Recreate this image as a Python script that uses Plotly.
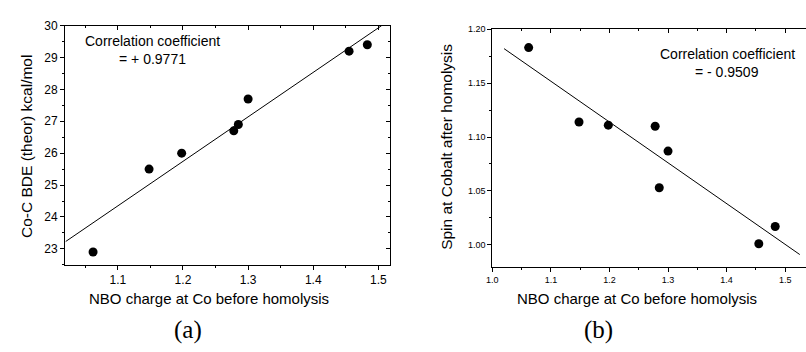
import plotly.graph_objects as go

# Data
nbo_charge = [1.062, 1.148, 1.198, 1.278, 1.285, 1.300, 1.455, 1.483]
bde_theor = [22.9, 25.5, 26.0, 26.7, 26.9, 27.7, 29.2, 29.4]
spin_cobalt = [1.183, 1.114, 1.111, 1.110, 1.053, 1.087, 1.001, 1.017]

fit_a_x = [1.02, 1.505]
fit_a_y = [23.23, 30.0]
fit_b_x = [1.02, 1.525]
fit_b_y = [1.182, 0.991]

xticks_a = [1.1, 1.2, 1.3, 1.4, 1.5]
yticks_a = [23, 24, 25, 26, 27, 28, 29, 30]
xticks_b = [1.0, 1.1, 1.2, 1.3, 1.4, 1.5]
yticks_b = [1.00, 1.05, 1.10, 1.15, 1.20]

W, H = 806, 352
ax_a = dict(x0=59.5, x1=387, y0=19, y1=263)
ax_b = dict(x0=490, x1=806, y0=22.7, y1=265)
xr_a = [1.019, 1.518]
yr_a = [22.5, 30.0]
xr_b = [1.0, 1.5356]
yr_b = [0.9797, 1.2]

font = "Liberation Sans, Arial, sans-serif"

def dom_x(a):
    return [a["x0"] / W, a["x1"] / W]

def dom_y(a):
    return [1 - a["y1"] / H, 1 - a["y0"] / H]

fig = go.Figure()
mk = dict(color="black", size=9)
fig.add_trace(go.Scatter(x=nbo_charge, y=bde_theor, mode="markers", marker=mk,
                         xaxis="x", yaxis="y", showlegend=False))
fig.add_trace(go.Scatter(x=fit_a_x, y=fit_a_y, mode="lines", line=dict(color="black", width=1),
                         xaxis="x", yaxis="y", showlegend=False))
fig.add_trace(go.Scatter(x=nbo_charge, y=spin_cobalt, mode="markers", marker=mk,
                         xaxis="x2", yaxis="y2", showlegend=False))
fig.add_trace(go.Scatter(x=fit_b_x, y=fit_b_y, mode="lines", line=dict(color="black", width=1),
                         xaxis="x2", yaxis="y2", showlegend=False))

common = dict(showgrid=False, zeroline=False, showline=True, linecolor="black", linewidth=1,
              ticks="outside", ticklen=4, tickwidth=1, tickcolor="black")

def minor(d, direction="outside"):
    return dict(dtick=d, ticks=direction, ticklen=2, tickwidth=1, tickcolor="black", showgrid=False)

fig.update_layout(
    width=W, height=H, margin=dict(l=0, r=0, t=0, b=0),
    plot_bgcolor="white", paper_bgcolor="white",
    xaxis=dict(**common, domain=dom_x(ax_a), anchor="y", range=xr_a,
               tickvals=xticks_a, tickformat=".1f", minor=minor(0.05),
               tickfont=dict(family=font, size=12, color="black")),
    yaxis=dict(**common, domain=dom_y(ax_a), anchor="x", range=yr_a,
               tickvals=yticks_a, minor=minor(0.5),
               tickfont=dict(family=font, size=12, color="black")),
    xaxis3=dict(**{**common, "ticks": "inside"}, overlaying="x", side="top", anchor="y",
                range=xr_a, tickvals=xticks_a, showticklabels=False, minor=minor(0.05, "inside")),
    yaxis3=dict(**{**common, "ticks": "inside"}, overlaying="y", side="right", anchor="x",
                range=yr_a, tickvals=yticks_a, showticklabels=False, minor=minor(0.5, "inside")),
    xaxis2=dict(**common, domain=dom_x(ax_b), anchor="y2", range=xr_b,
                tickvals=xticks_b, tickformat=".1f", minor=minor(0.05),
                tickfont=dict(family=font, size=9, color="black")),
    yaxis2=dict(**common, domain=dom_y(ax_b), anchor="x2", range=yr_b,
                tickvals=yticks_b, tickformat=".2f", minor=minor(0.025),
                tickfont=dict(family=font, size=9, color="black")),
    xaxis4=dict(**{**common, "ticks": "inside"}, overlaying="x2", side="top", anchor="y2",
                range=xr_b, tickvals=xticks_b, showticklabels=False, minor=minor(0.05, "inside")),
)

# Dummy invisible traces so overlay axes render
fig.add_trace(go.Scatter(x=[None], y=[None], xaxis="x3", yaxis="y3", showlegend=False))
fig.add_trace(go.Scatter(x=[None], y=[None], xaxis="x4", yaxis="y2", showlegend=False))

def px(x, y, text, size, fam=font, angle=0):
    fig.add_annotation(x=x / W, y=1 - y / H, xref="paper", yref="paper", text=text,
                       showarrow=False, textangle=angle, xanchor="center", yanchor="middle",
                       align="center", font=dict(family=fam, size=size, color="black"))

px(20, 142, "Co-C BDE (theor) kcal/mol", 15.5, angle=-90)
px(443, 143, "Spin at Cobalt after homolysis", 15.5, angle=-90)
px(205, 297, "NBO charge at Co before homolysis", 15)
px(636, 297, "NBO charge at Co before homolysis", 15)
px(183, 330, "(a)", 25, fam="Liberation Serif, Times New Roman, serif")
px(597, 330, "(b)", 25, fam="Liberation Serif, Times New Roman, serif")
px(148, 35, "Correlation coefficient", 14)
px(148, 53, "= + 0.9771", 14)
px(727, 48, "Correlation coefficient", 14)
px(726, 66, "= - 0.9509", 14)

fig.write_html("out.html")
